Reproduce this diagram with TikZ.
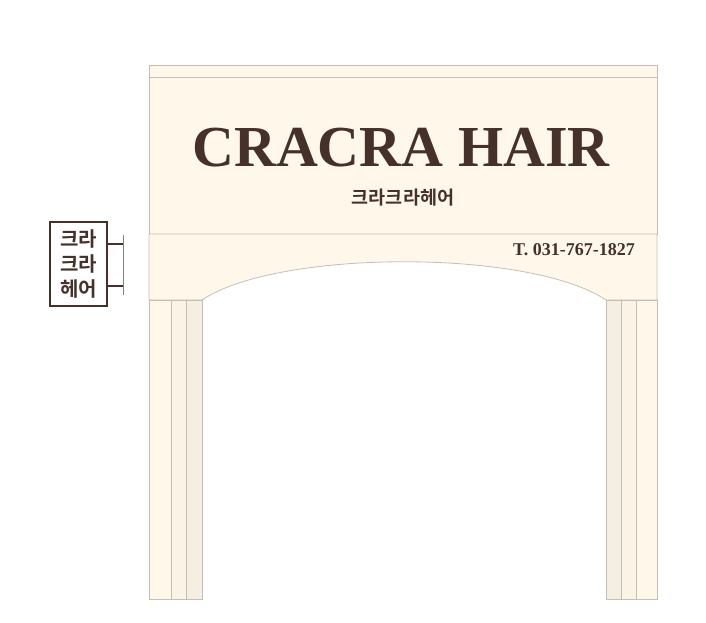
\documentclass[tikz,border=0pt]{standalone}
\usepackage{fontspec}
\setmainfont{Liberation Serif}
\newfontfamily\kr{Noto Sans CJK KR}[BoldFont={Noto Sans CJK KR Bold}]
\definecolor{cream}{HTML}{FFF8EA}
\definecolor{creamb}{HTML}{FAF3E6}
\definecolor{creamc}{HTML}{F5EEE3}
\definecolor{edge}{HTML}{C8BDB2}
\definecolor{brown}{HTML}{45302A}
\begin{document}
\begin{tikzpicture}[x=1pt,y=-1pt,
  part/.style={draw=edge,line width=0.8pt},
  signtext/.style={text=brown,inner sep=0pt}]
\useasboundingbox (0,0) rectangle (706,623);
% top strip and sign
\filldraw[part,fill=cream] (149,65) rectangle (657,77);
\filldraw[part,fill=cream] (149,77) rectangle (657,234);
% arch band
\filldraw[part,fill=cream] (149,234) -- (657,234) -- (657,300) -- (606,300)
  .. controls (530,249) and (278,249) .. (202,300) -- (149,300) -- cycle;
% left pillar
\filldraw[part,fill=cream] (149,300) rectangle (171,599);
\filldraw[part,fill=creamb] (171,300) rectangle (186,599);
\filldraw[part,fill=creamc] (186,300) rectangle (202,599);
% right pillar
\filldraw[part,fill=creamc] (606,300) rectangle (621,599);
\filldraw[part,fill=creamb] (621,300) rectangle (636,599);
\filldraw[part,fill=cream] (636,300) rectangle (657,599);
% texts
\node[signtext,font=\fontsize{58}{58}\selectfont\bfseries] (title) at (401,148) {CRACRA HAIR};
\node[signtext,font=\kr\fontsize{18.5}{18.5}\selectfont\bfseries] (sub) at (403,198) {크라크라헤어};
\node[signtext,font=\fontsize{18}{18}\selectfont\bfseries,anchor=east] (tel) at (635,250) {T. 031-767-1827};
% hanging sign
\node[draw=brown,line width=1.4pt,fill=white,minimum width=57pt,minimum height=84pt,inner sep=0pt] (hang) at (78.5,264) {};
\node[signtext,font=\kr\fontsize{20}{25}\selectfont\bfseries,align=center] (hangt) at (hang.center) {크라\\크라\\헤어};
\coordinate (pole1) at (123,235);
\coordinate (pole2) at (123,295);
\draw[gray,line width=1pt] (pole1) -- (pole2);
\coordinate (b1) at (123,244);
\coordinate (b2) at (123,286);
\draw[brown,line width=2.5pt] (hang.east |- b1) -- (b1);
\draw[brown,line width=2.5pt] (hang.east |- b2) -- (b2);
\end{tikzpicture}
\end{document}
